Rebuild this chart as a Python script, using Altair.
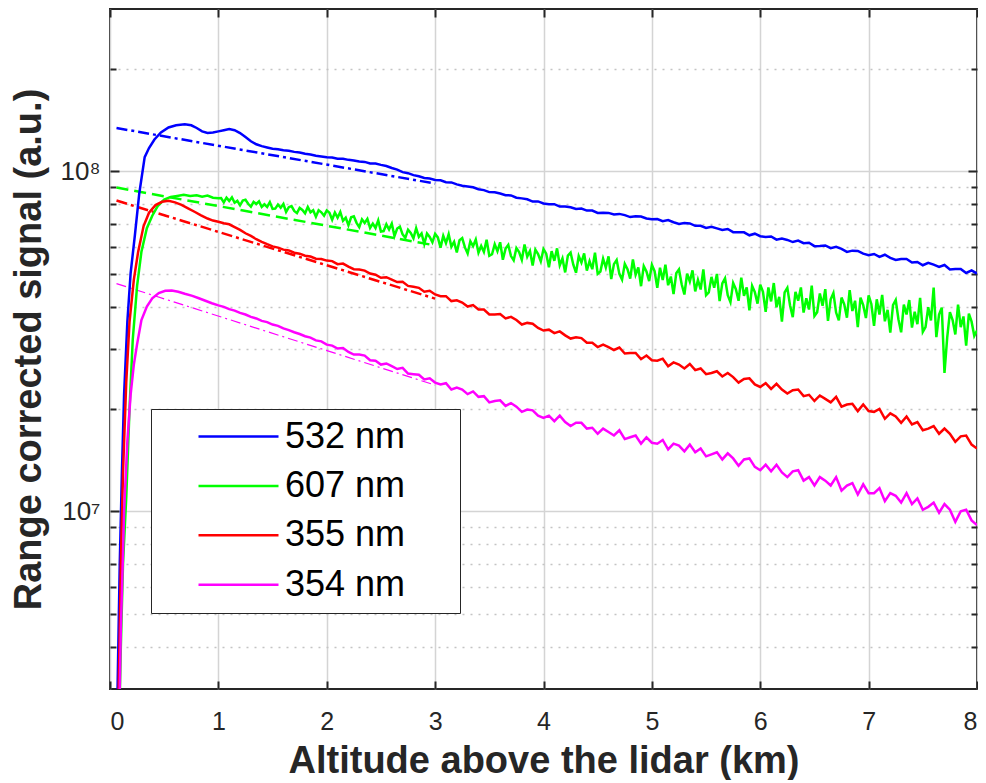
import altair as alt
import pandas as pd

# ---------------- data (signal values in units of 1e6 a.u.) ----------------
series_names = ["532 nm", "607 nm", "355 nm", "354 nm"]
series_colors = ["#0000ff", "#00ff00", "#ff0000", "#ff00ff"]

# altitude sampling (km) of the far range
grid_alt = [round(1.0 + 0.05 * i, 3) for i in range(141)]        # 1.00 ... 8.00
grid_alt_fine = [round(1.0 + 0.025 * i, 3) for i in range(281)]  # 1.000 ... 8.000 (607 nm)

# near range (overlap region) samples
rise_alt_532 = [0.06, 0.09, 0.11, 0.13, 0.16, 0.19, 0.23, 0.27, 0.32, 0.36, 0.41, 0.47, 0.54, 0.61, 0.69, 0.75, 0.80, 0.85, 0.90, 0.95]
rise_sig_532 = [2.0, 7, 13, 22, 36, 50, 65, 86, 110, 117, 124, 130, 134.5, 136.5, 137.5, 136.5, 134, 131, 129.5, 130]
sig_532 = [
    131, 132, 133, 132, 129.5, 126, 122.5, 120, 118.5, 117.5, 116.5, 116, 115.2, 114.8, 114, 113.5, 112.5, 112, 111, 110.5, 110,
    109.8, 108.9, 108.8, 108.0, 107.6, 106.8, 106.5, 105.4, 105.3, 104.4, 103.6, 102.2, 101.1, 99.4, 98.7, 97.4, 96.6, 95.5, 95.2, 94.2,
    94.0, 92.8, 92.7, 91.5, 90.6, 90.2, 89.7, 88.5, 88.0, 86.8, 86.7, 86.0, 85.0, 84.9, 83.6, 83.2, 82.7, 81.4, 81.5, 80.4,
    79.9, 80.0, 78.7, 78.8, 78.3, 77.4, 77.7, 76.6, 76.6, 75.4, 75.5, 75.4, 74.6, 74.9, 74.3, 73.3, 73.7, 73.6, 72.6, 72.2,
    72.3, 71.3, 71.8, 70.8, 70.0, 70.4, 70.2, 69.1, 69.1, 68.1, 68.6, 67.9, 67.2, 67.6, 66.2, 66.2, 66.1, 64.8, 65.5, 64.4,
    64.1, 64.3, 62.9, 63.4, 62.8, 61.9, 62.5, 61.4, 61.6, 60.2, 60.3, 60.5, 59.4, 59.9, 59.1, 57.9, 58.4, 58.3, 57.2, 56.6,
    57.1, 56.0, 56.8, 55.6, 54.8, 55.2, 55.2, 53.9, 54.1, 52.9, 53.8, 53.1, 52.3, 53.0, 51.4, 51.6, 51.6, 50.2, 51.1, 50.0,
]

rise_alt_607 = [0.08, 0.10, 0.12, 0.15, 0.18, 0.21, 0.25, 0.29, 0.34, 0.39, 0.44, 0.50, 0.56, 0.62, 0.68, 0.74, 0.80, 0.85, 0.90, 0.95]
rise_sig_607 = [2.0, 4.0, 7, 11, 20, 32, 46, 58, 68, 74, 79, 82.5, 84.0, 84.6, 85.2, 84.5, 85.0, 84.2, 84.8, 83.6]
sig_607 = [
    83.3,
    83.4, 81.0, 83.6, 81.8, 83.8, 80.8, 81.8, 79.4, 82.0, 82.4, 80.2, 78.7, 81.3, 80.1, 81.5, 78.5, 79.9, 78.5, 81.1, 77.5,
    77.6, 79.8, 78.1, 80.1, 75.9, 78.4, 79.0, 76.4, 75.3, 78.0, 76.9, 75.2, 78.5, 75.7, 76.8, 73.5, 76.8, 75.7, 74.0, 76.7,
    75.5, 72.0, 75.6, 73.0, 75.9, 71.5, 73.0, 69.4, 73.2, 73.7, 70.5, 68.5, 72.2, 70.4, 72.4, 68.1, 70.1, 68.0, 71.7, 66.5,
    66.7, 69.8, 67.4, 70.1, 64.5, 67.8, 68.7, 65.2, 63.7, 67.3, 65.8, 63.5, 68.0, 64.1, 65.6, 61.1, 65.6, 64.1, 61.8, 65.4,
    63.9, 59.6, 64.6, 61.5, 65.3, 60.0, 62.0, 57.7, 62.7, 63.6, 59.7, 57.3, 62.2, 60.2, 63.0, 57.6, 60.3, 57.9, 62.9, 56.4,
    57.0, 61.0, 58.2, 61.8, 54.9, 59.2, 60.7, 56.3, 54.7, 59.4, 57.8, 54.9, 60.9, 56.1, 58.3, 52.8, 58.8, 57.1, 54.3, 59.0,
    57.2, 52.2, 58.2, 54.5, 59.3, 52.9, 55.4, 50.4, 56.5, 57.6, 53.1, 50.3, 56.3, 53.9, 57.3, 51.0, 54.4, 51.5, 57.6, 49.9,
    50.7, 55.3, 52.1, 56.2, 48.2, 53.3, 54.8, 49.9, 48.0, 53.4, 51.5, 48.3, 55.0, 49.6, 52.1, 45.9, 52.6, 50.7, 47.5, 53.0,
    50.8, 45.4, 52.0, 47.9, 53.1, 46.2, 49.0, 43.5, 50.1, 51.4, 46.5, 43.4, 50.0, 47.4, 51.1, 44.3, 47.9, 44.9, 51.4, 43.2,
    44.0, 48.9, 45.4, 49.9, 41.5, 46.8, 48.4, 43.2, 41.2, 46.9, 45.0, 41.6, 48.6, 43.0, 45.5, 39.0, 46.0, 44.1, 40.8, 46.4,
    44.2, 38.6, 45.5, 41.4, 46.9, 39.8, 42.7, 36.1, 44.0, 45.4, 40.3, 37.2, 44.2, 41.6, 45.5, 38.4, 42.3, 39.2, 46.1, 37.5,
    38.5, 43.7, 40.2, 45.0, 36.3, 42.0, 43.8, 38.4, 36.4, 42.5, 40.6, 37.1, 44.7, 38.8, 41.6, 34.8, 42.5, 40.4, 37.0, 43.1,
    40.7, 35.1, 42.0, 37.9, 43.3, 36.2, 39.1, 33.5, 40.4, 41.8, 36.7, 33.6, 40.5, 37.9, 41.8, 34.7, 38.6, 35.5, 42.4, 33.7,
    34.8, 39.8, 36.4, 45.5, 32.5, 37.9, 39.7, 25.5, 32.4, 38.5, 36.5, 33.1, 40.5, 34.8, 37.4, 30.7, 38.1, 36.1, 32.8, 34.0,
]

rise_alt_355 = [0.07, 0.09, 0.10, 0.12, 0.15, 0.18, 0.22, 0.26, 0.31, 0.36, 0.42, 0.48, 0.54, 0.60, 0.66, 0.72, 0.78, 0.84, 0.90, 0.95]
rise_sig_355 = [2.0, 4.5, 7, 13, 24, 36, 48, 58, 69, 75.5, 79.5, 81.3, 81.8, 81, 79.6, 77.8, 76, 74.2, 72.6, 71.6]
sig_355 = [
    71.0, 70.3, 69.8, 68.5, 67.2, 65.7, 64.5, 63.1, 62.0, 61.0, 60.1, 59.6, 58.8, 58.5, 57.6, 57.2, 56.4, 56.1, 55.3, 55.2, 54.6,
    54.4, 53.3, 53.5, 52.4, 51.5, 51.4, 51.0, 50.0, 49.6, 48.6, 48.8, 48.0, 47.2, 47.3, 46.0, 45.7, 45.4, 44.2, 44.5, 43.4,
    42.9, 42.9, 41.5, 41.7, 41.1, 40.0, 40.4, 39.2, 39.2, 37.9, 37.9, 38.0, 36.9, 37.3, 36.5, 35.4, 35.8, 35.6, 34.6, 34.0,
    34.2, 33.4, 33.8, 32.9, 32.2, 32.5, 32.3, 31.3, 31.3, 30.4, 30.9, 30.4, 29.8, 30.3, 29.1, 29.2, 29.2, 28.0, 28.7, 27.8,
    27.7, 28.1, 26.7, 27.4, 27.0, 26.3, 27.1, 26.0, 26.3, 25.3, 25.5, 25.8, 24.9, 25.5, 24.8, 23.9, 24.5, 24.6, 23.6, 23.2,
    23.8, 22.9, 23.7, 22.8, 22.2, 22.7, 22.8, 21.8, 22.0, 21.1, 21.9, 21.4, 20.9, 21.7, 20.3, 20.6, 20.7, 19.7, 20.6, 19.7,
    19.6, 20.0, 18.7, 19.4, 19.0, 18.2, 19.0, 18.0, 18.3, 17.3, 17.5, 17.8, 16.9, 17.5, 16.9, 16.0, 16.6, 16.7, 15.7, 15.3,
]

rise_alt_354 = [0.08, 0.10, 0.12, 0.13, 0.16, 0.19, 0.22, 0.25, 0.29, 0.34, 0.39, 0.45, 0.51, 0.57, 0.63, 0.69, 0.76, 0.82, 0.88, 0.94]
rise_sig_354 = [2.0, 4.5, 7.5, 10, 16, 22, 27, 31, 36.5, 40, 42.3, 43.8, 44.5, 44.6, 44.2, 43.6, 43.0, 42.3, 41.6, 40.9]
sig_354 = [
    40.3, 39.9, 39.3, 38.9, 38.3, 37.9, 37.3, 36.9, 36.3, 36.0, 35.4, 35.1, 34.5, 34.1, 33.6, 33.2, 32.7, 32.4, 31.8, 31.6, 30.9,
    30.7, 30.1, 30.2, 29.4, 28.9, 28.9, 28.7, 27.8, 27.7, 27.0, 27.2, 26.7, 26.2, 26.4, 25.4, 25.3, 25.2, 24.4, 24.6, 23.9,
    23.6, 23.8, 22.8, 23.1, 22.8, 22.1, 22.5, 21.7, 21.8, 20.9, 21.1, 21.2, 20.4, 20.8, 20.3, 19.6, 19.9, 19.8, 19.1, 18.8,
    19.1, 18.4, 19.1, 18.3, 17.8, 18.2, 18.2, 17.5, 17.6, 16.9, 17.5, 17.1, 16.7, 17.3, 16.3, 16.5, 16.7, 15.8, 16.5, 15.9,
    15.8, 16.2, 15.2, 15.8, 15.6, 15.0, 15.7, 14.9, 15.3, 14.5, 14.7, 14.9, 14.2, 14.8, 14.3, 13.6, 14.2, 14.3, 13.5, 13.2,
    13.7, 13.1, 13.7, 13.0, 12.6, 13.1, 13.2, 12.3, 12.6, 11.9, 12.6, 12.3, 11.9, 12.6, 11.5, 11.9, 12.1, 11.2, 12.0, 11.3,
    11.3, 11.7, 10.7, 11.3, 11.1, 10.6, 11.3, 10.5, 10.9, 10.1, 10.3, 10.6, 9.9, 10.5, 10.1, 9.3, 10.0, 10.1, 9.4, 9.1,
]

# fits (straight in log space), shown dash-dotted / dashed
fit_alt = [0.06, 3.0]
fit_532 = [134, 92]
fit_607 = [89.5, 60.5]
fit_355 = [82, 42.2]
fit_354 = [46.7, 23.5]

major_y = [1e7, 1e8]
minor_y = [4e6, 5e6, 6e6, 7e6, 8e6, 9e6, 2e7, 3e7, 4e7, 5e7, 6e7, 7e7, 8e7, 9e7, 2e8]
x_ticks = [0, 1, 2, 3, 4, 5, 6, 7, 8]

# ---------------- tables ----------------
rows = []
for name, ra, rs, ga, gs in [
    ("532 nm", rise_alt_532, rise_sig_532, grid_alt, sig_532),
    ("607 nm", rise_alt_607, rise_sig_607, grid_alt_fine, sig_607),
    ("355 nm", rise_alt_355, rise_sig_355, grid_alt, sig_355),
    ("354 nm", rise_alt_354, rise_sig_354, grid_alt, sig_354),
]:
    for a, s in zip(ra + ga, rs + gs):
        rows.append({"series": name, "alt": a, "signal": s * 1e6})
df = pd.DataFrame(rows)

fit_rows = []
for name, fv in zip(series_names, [fit_532, fit_607, fit_355, fit_354]):
    for a, s in zip(fit_alt, fv):
        fit_rows.append({"series": name, "alt": a, "signal": s * 1e6})
fit_df = pd.DataFrame(fit_rows)

# ---------------- chart ----------------
W, H = 867, 680
FONT = "Liberation Sans"
DARK = "#262626"

x_scale = alt.Scale(domain=[0, 8], nice=False)
y_scale = alt.Scale(type="log", domain=[3e6, 3e8], nice=False)
color_scale = alt.Scale(domain=series_names, range=series_colors)

x_main_axis = alt.Axis(
    orient="bottom", values=x_ticks, format="d", title="Altitude above the lidar (km)",
    grid=True, gridColor="#d4d4d4", gridWidth=1.5, ticks=False, domain=False,
    labelFont=FONT, labelFontSize=25, labelColor=DARK, labelPadding=20,
    titleFont=FONT, titleFontSize=38, titleFontWeight="bold", titleColor=DARK, titlePadding=8,
)
y_main_axis = alt.Axis(
    orient="left", values=major_y, labelExpr="datum.value > 5e7 ? '10⁸' : '10⁷'",
    title="Range corrected signal (a.u.)",
    grid=True, gridColor="#d4d4d4", gridWidth=1.5, ticks=False, domain=False,
    labelFont=FONT, labelFontSize=26, labelColor=DARK, labelPadding=10,
    titleFont=FONT, titleFontSize=38, titleFontWeight="bold", titleColor=DARK, titlePadding=12,
)

lines = alt.Chart(df).mark_line(strokeWidth=2.5, clip=True).encode(
    x=alt.X("alt:Q", scale=x_scale, axis=x_main_axis),
    y=alt.Y("signal:Q", scale=y_scale, axis=y_main_axis),
    color=alt.Color(
        "series:N", scale=color_scale, sort=series_names,
        legend=alt.Legend(
            title=None, orient="none", legendX=41, legendY=400, direction="vertical",
            symbolType="stroke", symbolSize=6400, symbolStrokeWidth=2.5, clipHeight=35,
            symbolOffset=36, labelOffset=5, labelFont=FONT, labelFontSize=36, labelColor="black",
            labelExpr="datum.label + '\u2002\u2800'", labelLimit=0,
            padding=10, rowPadding=12.4, strokeColor=DARK, fillColor="white",
        ),
    ),
)


def fit_layer(name, color, dash, width, y_axis):
    return alt.Chart(fit_df).transform_filter(
        alt.datum.series == name
    ).mark_line(color=color, strokeDash=dash, strokeWidth=width, clip=True).encode(
        x=alt.X("alt:Q", scale=x_scale, axis=None),
        y=alt.Y("signal:Q", scale=y_scale, axis=y_axis),
    )


minor_grid_axis = alt.Axis(
    values=minor_y, grid=True, gridDash=[2, 6], gridColor="#c4c4c4", gridWidth=1.3,
    labels=False, ticks=False, domain=False, title=None, orient="left",
)

fit1 = fit_layer("532 nm", "#0000ff", [11, 4, 3, 4], 2.5, minor_grid_axis)
fit2 = fit_layer("607 nm", "#00ff00", [12, 6], 2.5, None)
fit3 = fit_layer("355 nm", "#ff0000", [11, 4, 3, 4], 2.5, None)
fit4 = fit_layer("354 nm", "#ff00ff", [10, 4, 2, 4], 1.2, None)


def tick_layer(x_axis, y_axis):
    return alt.Chart(fit_df).mark_line(opacity=0).encode(
        x=alt.X("alt:Q", scale=x_scale, axis=x_axis),
        y=alt.Y("signal:Q", scale=y_scale, axis=y_axis),
    )


def xt(orient):
    return alt.Axis(orient=orient, offset=-H, values=x_ticks, tickSize=8, tickWidth=2,
                    tickColor=DARK, labels=False, domain=False, grid=False, title=None)


def yt(orient, vals, size):
    return alt.Axis(orient=orient, offset=-W, values=vals, tickSize=size, tickWidth=2,
                    tickColor=DARK, labels=False, domain=False, grid=False, title=None)


t1 = tick_layer(xt("top"), yt("right", major_y, 9))
t2 = tick_layer(xt("bottom"), yt("left", major_y, 9))
t3 = tick_layer(None, yt("right", minor_y, 6))
t4 = tick_layer(None, yt("left", minor_y, 6))

chart = alt.layer(fit1, fit2, fit3, fit4, lines, t1, t2, t3, t4).resolve_axis(
    x="independent", y="independent"
).properties(
    width=W, height=H,
    padding={"left": 2, "top": 0, "right": 0, "bottom": 0},
).configure(font=FONT).configure_view(stroke=DARK, strokeWidth=2)

chart.save("out.html", embed_options={"renderer": "svg", "actions": False})
